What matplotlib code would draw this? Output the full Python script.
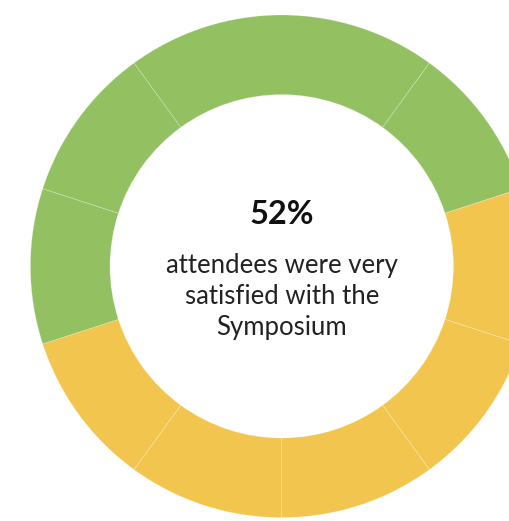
import matplotlib
matplotlib.use("Agg")
import matplotlib.pyplot as plt

# slices, clockwise starting at 126 degrees
slice_values = [20, 10, 10, 10, 10, 10, 10, 10, 10]
slice_groups = ["very", "very", "other", "other", "other", "other", "other", "very", "very"]
group_colors = {"very": "#93C162", "other": "#F2C64E"}

headline = "52%"
caption_lines = ["attendees were very", "satisfied with the", "Symposium"]

W, H = 509, 521
fig = plt.figure(figsize=(W / 100, H / 100), dpi=100)
ax = fig.add_axes([0, 0, 1, 1])

cx, cy = 281.7, H - 266.3
r_out, r_in = 251.3, 171.7

ax.pie(
    slice_values,
    colors=[group_colors[g] for g in slice_groups],
    startangle=126,
    counterclock=False,
    center=(cx, cy),
    radius=r_out,
    wedgeprops={"width": r_out - r_in, "edgecolor": (1, 1, 1, 0.3), "linewidth": 0.5},
)
ax.set_xlim(0, W)
ax.set_ylim(0, H)
ax.set_aspect("equal")
ax.axis("off")

font = "Lato"
ax.text(cx, H - 214, headline, ha="center", va="center", fontsize=23.5, fontweight="bold",
        family=font, color="#111111")
for i, line in enumerate(caption_lines):
    ax.text(cx, H - (266 + 31 * i), line, ha="center", va="center", fontsize=18.5,
            family=font, color="#222222")

fig.savefig("out.png", dpi=100)
